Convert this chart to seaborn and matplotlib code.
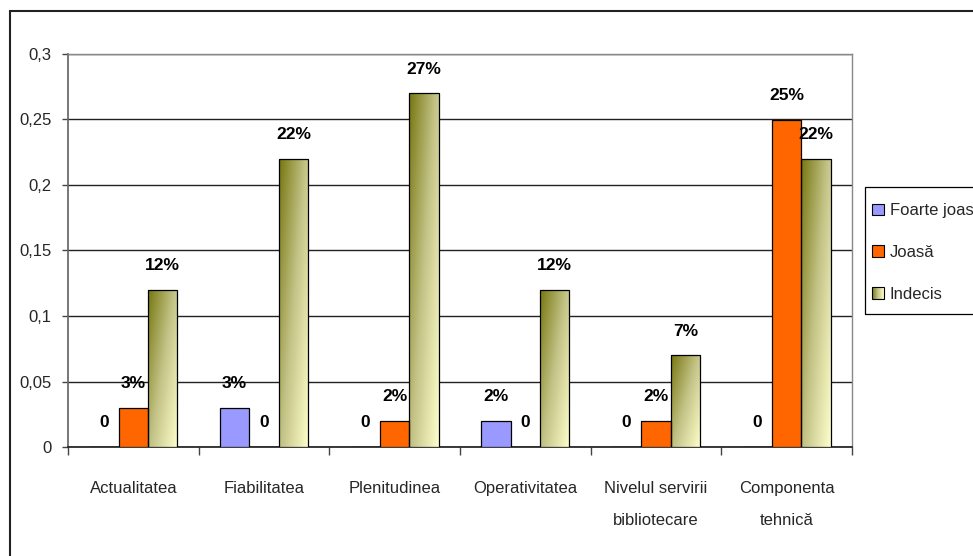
import numpy as np
import pandas as pd
import seaborn as sns
import matplotlib.pyplot as plt
from matplotlib import font_manager
from matplotlib.colors import LinearSegmentedColormap
from matplotlib.legend_handler import HandlerBase
from matplotlib.patches import Patch, Rectangle
from matplotlib.ticker import FuncFormatter, MultipleLocator

# chart data (fractions, labelled as percent)
categories = ['Actualitatea', 'Fiabilitatea', 'Plenitudinea', 'Operativitatea',
              'Nivelul servirii\nbibliotecare', 'Componenta\ntehnică']
series = ['Foarte joasă', 'Joasă', 'Indecis']
foarte_joasa = [0, 0.03, 0, 0.02, 0, 0]
joasa = [0.03, 0, 0.02, 0, 0.02, 0.25]
indecis = [0.12, 0.22, 0.27, 0.12, 0.07, 0.22]

colors = ['#9999FF', '#FF6600', '#B8B868']
gcmap = LinearSegmentedColormap.from_list('olive', ['#767610', '#C4C488', '#FFFFCC'])

df = pd.DataFrame({
    'cat': categories * 3,
    'serie': [s for s in series for _ in categories],
    'val': foarte_joasa + joasa + indecis,
})

sns.set_theme(style='white')
available = {f.name for f in font_manager.fontManager.ttflist}
fam = [f for f in ['Liberation Sans Narrow', 'Arial Narrow', 'Liberation Sans'] if f in available]
plt.rcParams['font.family'] = fam + ['DejaVu Sans']

fig = plt.figure(figsize=(9.73, 5.56), dpi=100)
ax = fig.add_axes([68 / 973, 1 - 447 / 556, (852 - 68) / 973, (447 - 54) / 556])

sns.barplot(data=df, x='cat', y='val', hue='serie', order=categories, hue_order=series,
            palette=colors, width=0.675, gap=0, edgecolor='black', linewidth=0.9,
            saturation=1, ax=ax, legend=False, zorder=3)

# diagonal gradient fill for "Indecis" bars (dark top-left, pale bottom-right)
u = np.linspace(0, 1, 64)[None, :]
r = np.linspace(0, 1, 256)[:, None]
grad = 0.55 * u + 0.45 * r
for bar in ax.containers[2]:
    bar.set_facecolor('none')
    x0, y0 = bar.get_x(), bar.get_y()
    im = ax.imshow(grad, cmap=gcmap, vmin=0, vmax=1, aspect='auto', zorder=2.9,
                   extent=[x0, x0 + bar.get_width(), y0, y0 + bar.get_height()])
    im.set_clip_path(bar)

ax.set_xlim(-0.5, len(categories) - 0.5)
ax.set_ylim(0, 0.3)
ax.yaxis.set_major_locator(MultipleLocator(0.05))
ax.yaxis.set_major_formatter(FuncFormatter(
    lambda v, p: f'{v:.2f}'.rstrip('0').rstrip('.').replace('.', ',') if v else '0'))
ax.set_axisbelow(True)
ax.grid(axis='y', color='#222222', linewidth=1)
ax.set_xlabel('')
ax.set_ylabel('')

# value labels
for cont in ax.containers:
    for bar in cont:
        v = bar.get_height()
        txt = '0' if v == 0 else f'{round(v * 100)}%'
        ax.annotate(txt, (bar.get_x() + bar.get_width() / 2, v), xytext=(0, 12),
                    textcoords='offset points', ha='center', va='bottom',
                    fontsize=12.5, fontweight='bold', color='black')

# axes styling
for side in ['top', 'right']:
    ax.spines[side].set_color('#888888')
    ax.spines[side].set_linewidth(1)
ax.spines['left'].set_color('#666666')
ax.spines['bottom'].set_color('#222222')
ax.set_xticks(np.arange(len(categories)))
ax.set_xticklabels(categories, linespacing=2.4, fontsize=12)
ax.tick_params(axis='x', which='major', length=0, pad=24.5)
ax.set_xticks(np.arange(len(categories) + 1) - 0.5, minor=True)
ax.tick_params(axis='x', which='minor', bottom=True, length=6, width=1, color='#444444')
ax.tick_params(axis='y', left=True, length=4, width=1, color='#444444', pad=8, labelsize=12)


class GradientHandler(HandlerBase):
    def create_artists(self, legend, orig_handle, xdescent, ydescent, width, height,
                       fontsize, trans):
        n = 12
        arts = []
        for i in range(n):
            arts.append(Rectangle((-xdescent + width * i / n, -ydescent), width / n + 0.2, height,
                                  facecolor=gcmap((i + 0.5) / n), edgecolor='none',
                                  transform=trans))
        arts.append(Rectangle((-xdescent, -ydescent), width, height, facecolor='none',
                              edgecolor='black', linewidth=0.8, transform=trans))
        return arts


# legend (cut off at figure edge like the original)
handles = [Patch(facecolor=c, edgecolor='black', linewidth=0.8) for c in colors[:2]]
grad_handle = Patch(facecolor=colors[2])
handles.append(grad_handle)
leg = fig.legend(handles, series, loc='center left', bbox_to_anchor=(872 / 973, 1 - 252.5 / 556),
                 fontsize=12, frameon=False, handlelength=0.7, handleheight=0.7,
                 handletextpad=0.35, labelspacing=1.6, borderpad=0, borderaxespad=0,
                 handler_map={grad_handle: GradientHandler()})
fig.patches.append(Rectangle((865 / 973, 1 - 314 / 556), 0.5, 127 / 556, transform=fig.transFigure,
                             fill=False, edgecolor='black', linewidth=0.9))

# outer chart border
fig.patches.append(Rectangle((10 / 973, -0.1), 1.0, 1 - 11 / 556 + 0.1, transform=fig.transFigure,
                             fill=False, edgecolor='#222222', linewidth=1.5))

fig.savefig('out.png', dpi=100)
